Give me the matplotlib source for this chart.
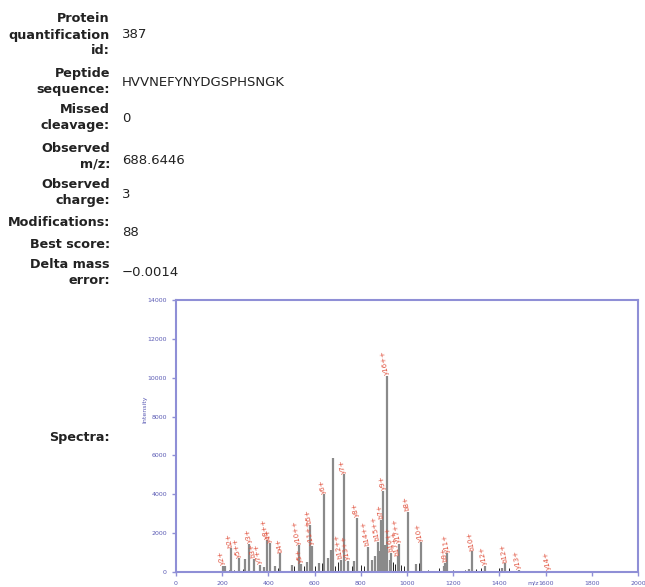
import matplotlib.pyplot as plt

# Kopf-Informationen
info_labels = ['Protein\nquantification\nid:', 'Peptide\nsequence:', 'Missed\ncleavage:',
               'Observed\nm/z:', 'Observed\ncharge:', 'Modifications:', 'Best score:',
               'Delta mass\nerror:']
info_values = ['387', 'HVVNEFYNYDGSPHSNGK', '0', '688.6446', '3', '', '88', '\u22120.0014']
label_y = [35, 81, 118, 156, 193, 223, 245, 273]
value_y = [35, 82, 119, 160, 194, 223, 232, 272]

# annotierte Peaks (m/z, Intensitaet, Ion)
ann_mz = [204, 237, 272, 318, 336, 364, 392, 405, 450, 531, 542, 579, 588, 639, 713, 726,
          743, 783, 830, 874, 889, 898, 914, 931, 959, 964, 1003, 1061, 1166, 1175, 1282,
          1339, 1426, 1486, 1615]
ann_int = [300, 1220, 700, 1450, 680, 380, 1650, 1480, 960, 1370, 420, 2420, 1350, 4000, 620,
           5030, 560, 2800, 1300, 1560, 2680, 4190, 10090, 1000, 800, 1440, 3100, 1530, 470,
           960, 1080, 310, 445, 100, 50]
ann_lab = ['y2+', 'b2+', 'y5++', 'y3+', 'b3+', 'y7++', 'y8++', 'y4+', 'b4+', 'y10++', 'y5+',
           'b5+', 'y11++', 'y6+', 'b12++', 'y7+', 'y13++', 'y8+', 'b14++', 'b15++', 'b7+',
           'y9+', 'y16++', 'b16++', 'b17++', 'y17++', 'b8+', 'y10+', 'b9+', 'y11+', 'b10+',
           'y12+', 'b12+', 'y13+', 'y14+']

# nicht annotierte graue Peaks
gray_mz = [212, 298, 380, 430, 500, 565, 620, 660, 670, 678, 770, 850, 860, 880, 905, 925,
           1040, 1160, 1270, 1410]
gray_int = [300, 650, 250, 300, 350, 500, 480, 700, 1150, 5870, 550, 600, 800, 1100, 1400,
            600, 400, 300, 150, 200]

# Rauschen (schwarz)
noise_mz = [210, 228, 250, 290, 310, 335, 360, 375, 395, 440, 512, 540, 555, 590, 600, 630,
            655, 690, 700, 710, 740, 760, 800, 815, 940, 950, 958, 975, 985, 1000, 1050, 1090,
            1140, 1200, 1250, 1300, 1320, 1400, 1440, 1500, 1550, 1650, 1700]
noise_int = [150, 120, 100, 150, 250, 200, 150, 200, 250, 200, 300, 400, 300, 900, 300, 450,
             300, 300, 500, 250, 500, 300, 350, 300, 500, 400, 700, 350, 300, 150, 450, 100,
             200, 100, 100, 150, 200, 200, 200, 60, 60, 30, 30]

axis_blue = '#8f8fd6'
text_blue = '#5a5ab4'
red = '#e0503c'

fig = plt.figure(figsize=(6.45, 5.87), dpi=100)

# Textblock oben
for lab, ly, val, vy in zip(info_labels, label_y, info_values, value_y):
    fig.text(110 / 645, 1 - ly / 587, lab, ha='right', va='center', fontsize=9.2,
             fontweight='bold', color='#222222', linespacing=1.3)
    fig.text(122 / 645, 1 - vy / 587, val, ha='left', va='center', fontsize=9.5,
             color='#222222')
fig.text(110 / 645, 1 - 438 / 587, 'Spectra:', ha='right', va='center', fontsize=9.2,
         fontweight='bold', color='#222222')

# Spektrum
ax = fig.add_axes([176 / 645, 1 - 572 / 587, 462 / 645, 272 / 587])
ax.vlines(noise_mz, 0, noise_int, color='#222222', lw=0.7)
ax.vlines(gray_mz, 0, gray_int, color='#8a8a8a', lw=1.6)
ax.vlines(ann_mz, 0, ann_int, color='#8a8a8a', lw=1.6)
for mz, inten, lab in zip(ann_mz, ann_int, ann_lab):
    ax.text(mz, inten + 60, lab, rotation=100, rotation_mode='anchor', ha='left',
            va='center', fontsize=5, color=red)

ax.set_xlim(0, 2000)
ax.set_ylim(0, 14000)
ax.set_xticks(range(0, 2001, 200))
ax.set_yticks(range(0, 14001, 2000))
for s in ax.spines.values():
    s.set_color(axis_blue)
    s.set_linewidth(1.5)
ax.tick_params(colors=axis_blue, labelcolor=text_blue, labelsize=4.5, length=3, width=1)
ax.text(0.773, -0.04, 'm/z', transform=ax.transAxes, fontsize=4.5, color=text_blue,
        ha='center', va='center')
ax.text(-0.068, 0.60, 'Intensity', transform=ax.transAxes, fontsize=4.5, color=text_blue,
        rotation=90, ha='center', va='center')

fig.savefig('out.png', dpi=100)
